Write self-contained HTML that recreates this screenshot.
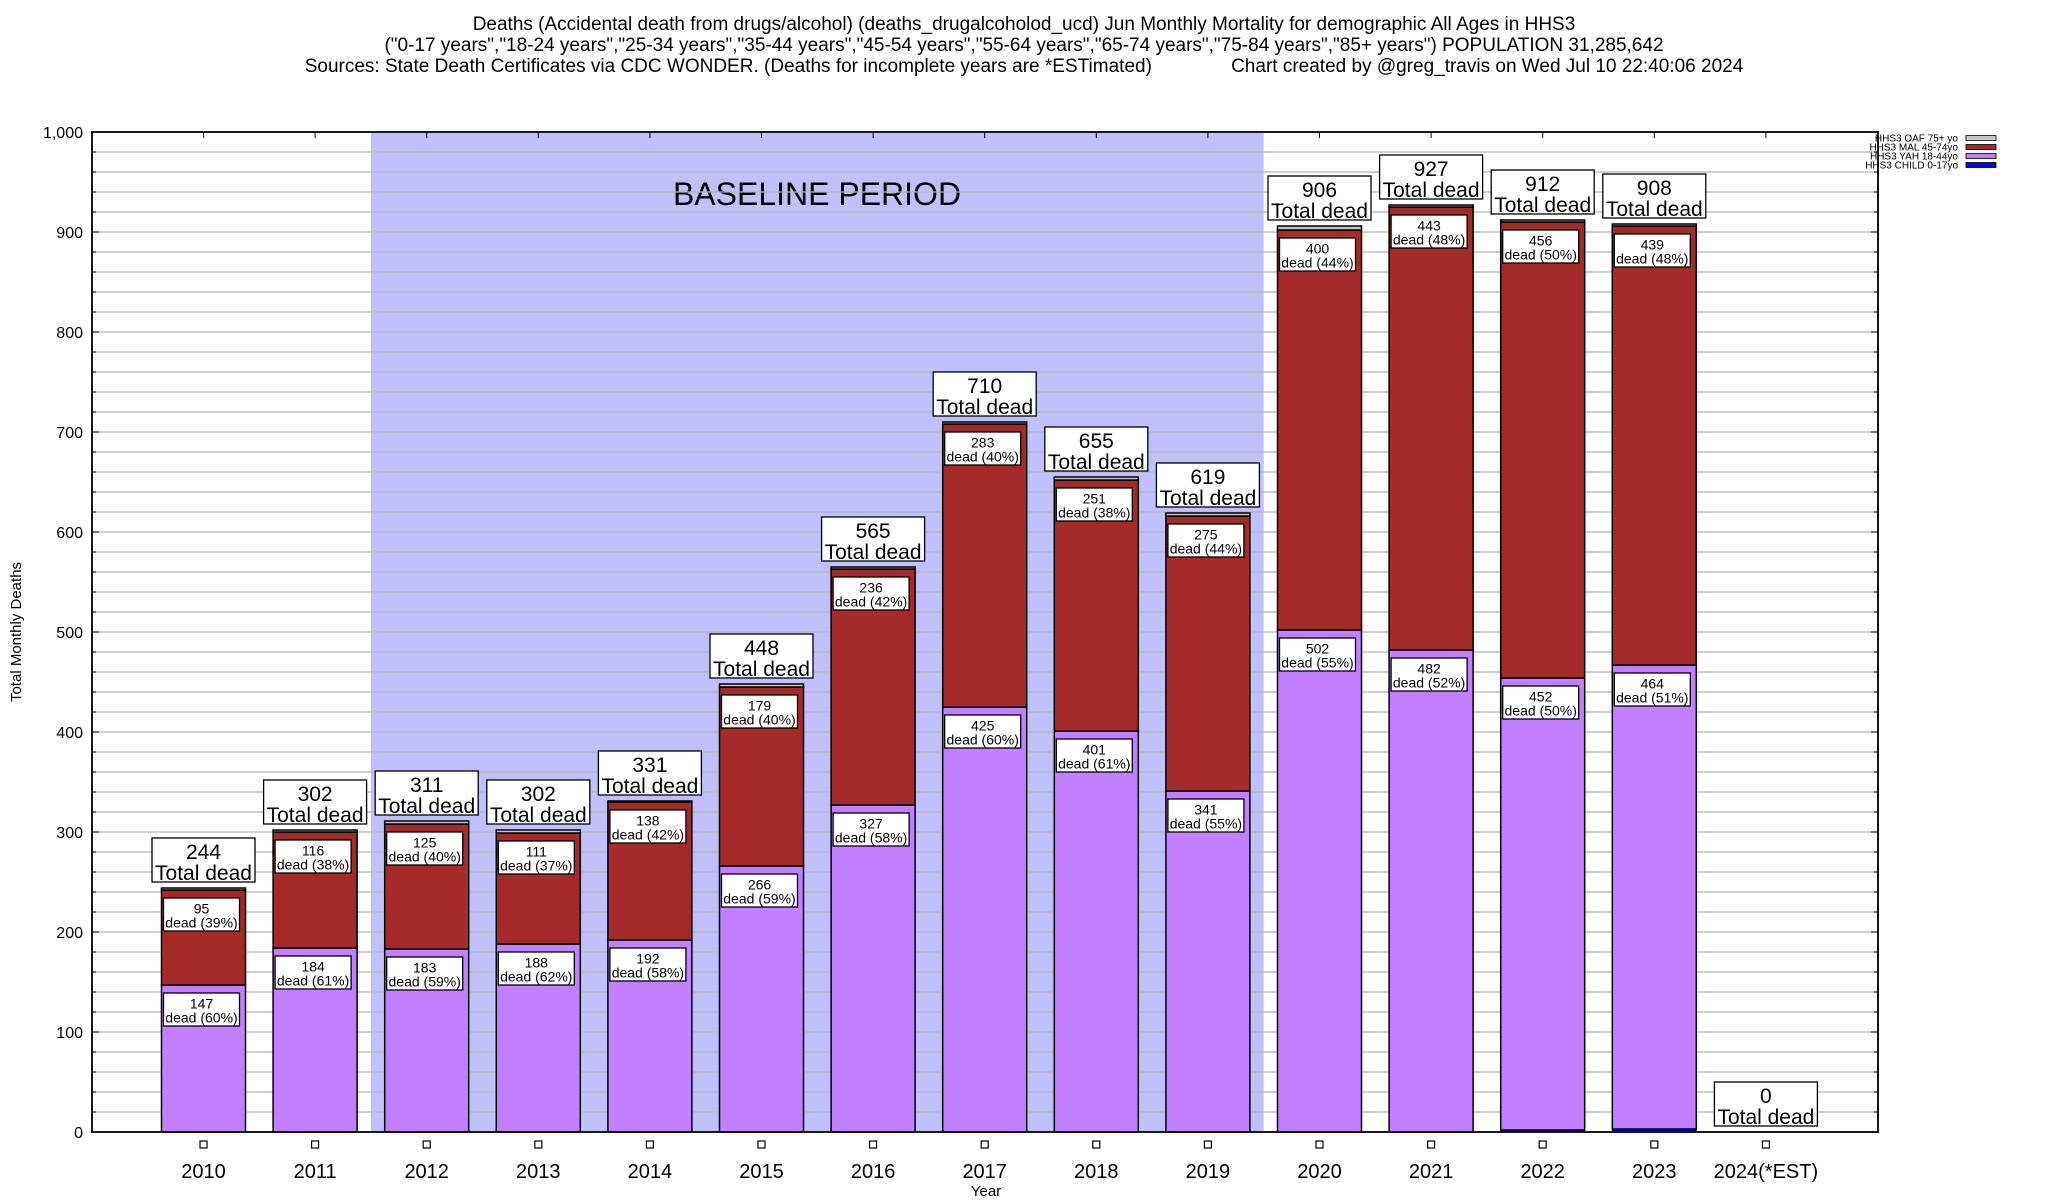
<!DOCTYPE html>
<html><head><meta charset="utf-8">
<style>
html,body{margin:0;padding:0;background:#fff;}
svg{display:block;font-family:"Liberation Sans",Arial,sans-serif;}
</style></head>
<body>
<svg id="chart" width="2048" height="1200" viewBox="0 0 2048 1200">
<g id="titles">
<text x="1024" y="30" text-anchor="middle" font-size="19">Deaths (Accidental death from drugs/alcohol) (deaths_drugalcoholod_ucd) Jun Monthly Mortality for demographic All Ages in HHS3</text>
<text x="1024" y="51" text-anchor="middle" font-size="19">("0-17 years","18-24 years","25-34 years","35-44 years","45-54 years","55-64 years","65-74 years","75-84 years","85+ years") POPULATION 31,285,642</text>
<text x="1024" y="72" text-anchor="middle" font-size="19" xml:space="preserve">Sources: State Death Certificates via CDC WONDER. (Deaths for incomplete years are *ESTimated)               Chart created by @greg_travis on Wed Jul 10 22:40:06 2024</text>
</g>
<g id="plot"></g>
</svg>
<script>
const categories = ["2010","2011","2012","2013","2014","2015","2016","2017","2018","2019","2020","2021","2022","2023","2024(*EST)"];
const totals = [244,302,311,302,331,448,565,710,655,619,906,927,912,908,0];
const childVals = [0,0,0,0,0,0,0,0,0,0,0,0,2,3,0];
const yahVals = [147,184,183,188,192,266,327,425,401,341,502,482,452,464,0];
const malVals = [95,116,125,111,138,179,236,283,251,275,400,443,456,439,0];
const oafVals = [2,2,3,3,1,3,2,2,3,3,4,2,2,2,0];
const yahPct = [60,61,59,62,58,59,58,60,61,55,55,52,50,51,0];
const malPct = [39,38,40,37,42,40,42,40,38,44,44,48,50,48,0];
const yTicks = [0,100,200,300,400,500,600,700,800,900,1000];
const baselineRange = [2012,2019];

const NS="http://www.w3.org/2000/svg";
const L=92,R=1878,T=132,B=1132;
const yMax=1000;
function ys(v){return B-(v/yMax)*(B-T);}
const x0=203.5, step=111.6;
function xs(i){return x0+i*step;}
const barW=84;
const g=document.getElementById('plot');
function el(tag,attrs,parent){const e=document.createElementNS(NS,tag);for(const k in attrs)e.setAttribute(k,attrs[k]);(parent||g).appendChild(e);return e;}

const bi0=categories.indexOf(String(baselineRange[0])), bi1=categories.indexOf(String(baselineRange[1]));
const shade=el('rect',{x:xs(bi0)-step/2,y:T,width:(bi1-bi0+1)*step,height:B-T,fill:'#c0c0fc'});


const bt=el('text',{x:817,y:205,'text-anchor':'middle','font-size':32});
bt.textContent='BASELINE PERIOD';



for(let v=20;v<yMax;v+=20){
  const ln=el('line',{x1:L,x2:R,y1:ys(v),y2:ys(v),stroke:'#b4b4b4','stroke-width':1.3});
  
  
  el('line',{x1:L,x2:L+4,y1:ys(v),y2:ys(v),stroke:'#000'});
  el('line',{x1:R-4,x2:R,y1:ys(v),y2:ys(v),stroke:'#000'});
}
yTicks.forEach(v=>{
  el('line',{x1:L,x2:L+7,y1:ys(v),y2:ys(v),stroke:'#000'});
  el('line',{x1:R-7,x2:R,y1:ys(v),y2:ys(v),stroke:'#000'});
  const t=el('text',{x:L-9,y:ys(v)+6,'text-anchor':'end','font-size':16});
  t.textContent=v.toLocaleString('en-US');
  
  
});

function box(cx,top,w,h,lines,fs,name){
  const gg=el('g',{});
  
  
  el('rect',{x:cx-w/2,y:top,width:w,height:h,fill:'#fff',stroke:'#000','stroke-width':1.3},gg);
  lines.forEach((s,k)=>{const t=el('text',{x:cx,y:top+fs*(k+1)-1+(h-fs*2)/2,'text-anchor':'middle','font-size':fs},gg);t.textContent=s;});
}

categories.forEach((c,i)=>{
  const cx=xs(i);
  const segs=[[childVals[i],'#0000ff','child-0-17'],[yahVals[i],'#c080ff','yah-18-44'],[malVals[i],'#a52a2a','mal-45-74'],[oafVals[i],'#c8c8c8','oaf-75plus']];
  let acc=0;
  segs.forEach(([v,col,nm])=>{
    if(v<=0)return;
    const r=el('rect',{x:cx-barW/2,y:ys(acc+v),width:barW,height:ys(acc)-ys(acc+v),fill:col,stroke:'#000','stroke-width':nm==='child-0-17'?0.8:1.5});
    
    
    acc+=v;
  });
  if(totals[i]>0){
    box(cx-2,ys(yahVals[i]+childVals[i])+8,76,33,[String(yahVals[i]),'dead ('+yahPct[i]+'%)'],14,'yah-label-'+c);
    box(cx-2,ys(yahVals[i]+childVals[i]+malVals[i])+8,76,33,[String(malVals[i]),'dead ('+malPct[i]+'%)'],14,'mal-label-'+c);
  }
  box(cx,ys(totals[i])-50,103,44,[String(totals[i]),'Total dead'],21,'total-label-'+c);
  const sq=el('rect',{x:cx-3.5,y:1141,width:7,height:7,fill:'#fff',stroke:'#000','stroke-width':1.2});
  
  
  const t=el('text',{x:cx,y:1178,'text-anchor':'middle','font-size':20});
  t.textContent=c;
  
  
  el('line',{x1:cx,x2:cx,y1:T,y2:T+6,stroke:'#000'});
});

const frame=el('rect',{x:L,y:T,width:R-L,height:B-T,fill:'none',stroke:'#000','stroke-width':1.8});



const xt=el('text',{x:986,y:1196,'text-anchor':'middle','font-size':15});
xt.textContent='Year';


const yt=el('text',{x:0,y:0,'text-anchor':'middle','font-size':15,transform:'translate(21,632) rotate(-90)'});
yt.textContent='Total Monthly Deaths';



const legendNames=['HHS3 OAF 75+ yo','HHS3 MAL 45-74yo','HHS3 YAH 18-44yo','HHS3 CHILD 0-17yo'];
const legendColors=['#c8c8c8','#a52a2a','#c080ff','#0000ff'];
legendNames.forEach((n,k)=>{
  const lg=el('g',{});
  
  
  const yy=138+k*9;
  const t=el('text',{x:1958,y:yy+3.5,'text-anchor':'end','font-size':10},lg);
  t.textContent=n;
  el('rect',{x:1966,y:yy-2.5,width:30,height:5,fill:legendColors[k],stroke:'#000','stroke-width':0.8},lg);
});
</script>
</body></html>
